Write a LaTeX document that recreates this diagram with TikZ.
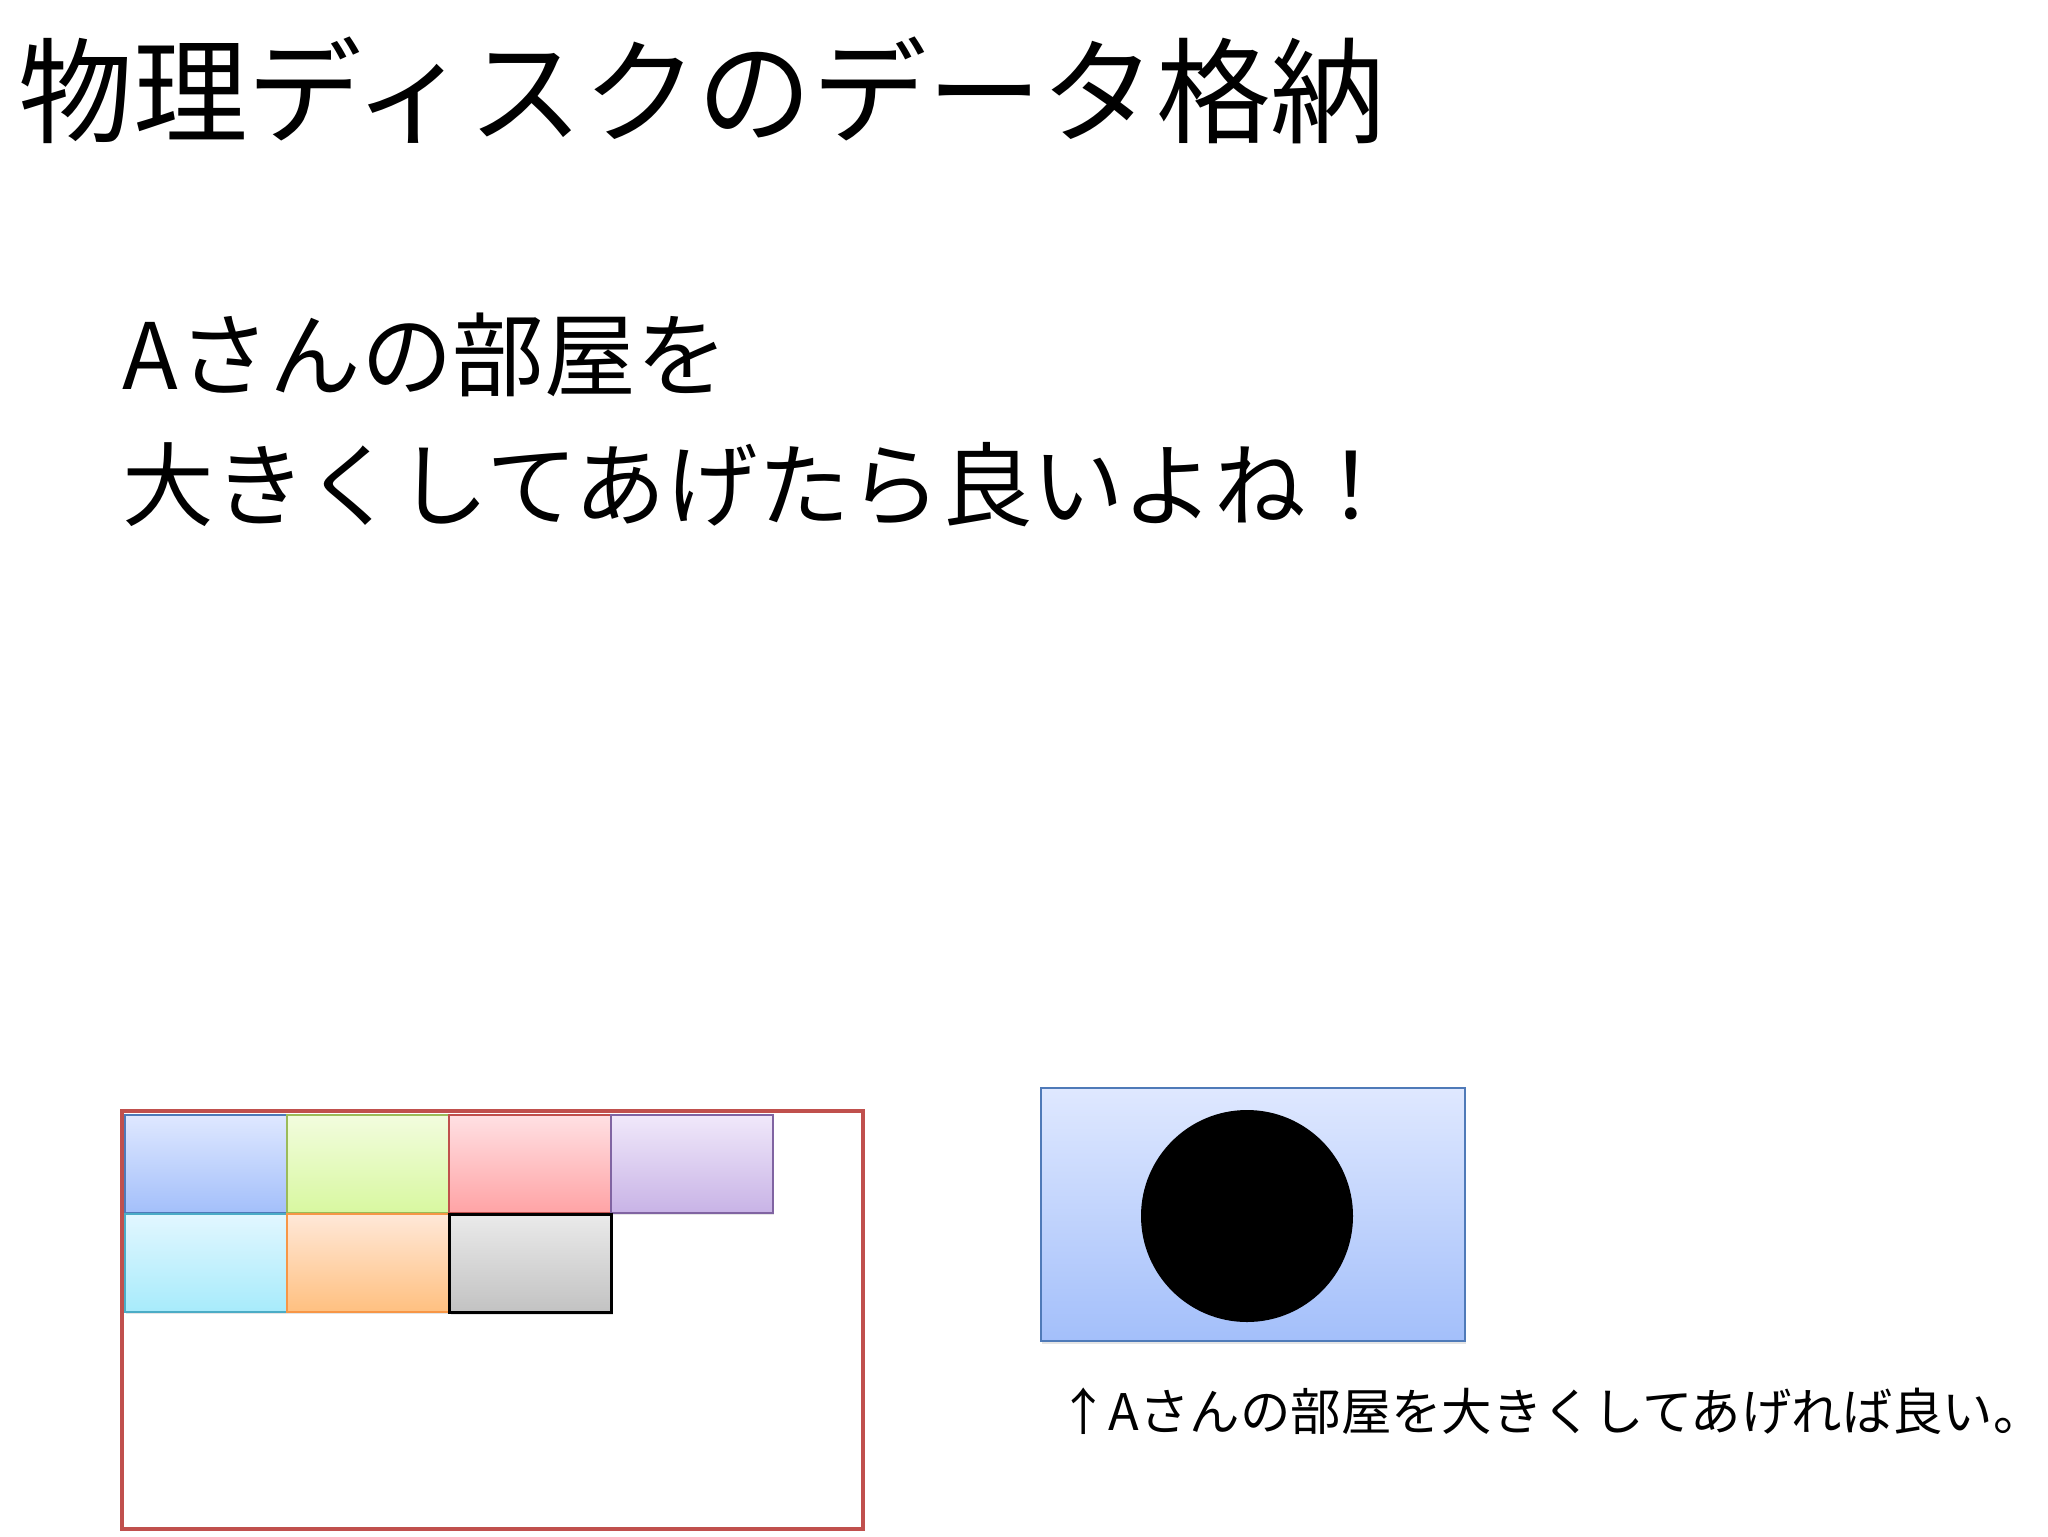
\documentclass[tikz,border=0pt]{standalone}
\usepackage{fontspec}
\newfontfamily\jp{Noto Sans CJK JP}
\usetikzlibrary{shadows}
\definecolor{redframe}{HTML}{C0504D}
\definecolor{bT}{HTML}{DFE8FF}\definecolor{bB}{HTML}{A3BFFA}\definecolor{bL}{HTML}{4F7AB8}
\definecolor{gT}{HTML}{F2FCDE}\definecolor{gB}{HTML}{D8F8A0}\definecolor{gL}{HTML}{9BBB59}
\definecolor{rT}{HTML}{FFE0E3}\definecolor{rB}{HTML}{FFA3A5}\definecolor{rL}{HTML}{C0504D}
\definecolor{pT}{HTML}{F0E8FA}\definecolor{pB}{HTML}{C8B3E6}\definecolor{pL}{HTML}{8064A2}
\definecolor{cT}{HTML}{E2F7FF}\definecolor{cB}{HTML}{A7EBFB}\definecolor{cL}{HTML}{4BACC6}
\definecolor{oT}{HTML}{FFE8D8}\definecolor{oB}{HTML}{FFC080}\definecolor{oL}{HTML}{F79646}
\definecolor{kT}{HTML}{EAEAEA}\definecolor{kB}{HTML}{C2C2C2}
\tikzset{
  cell/.style={rectangle, inner sep=0pt, minimum width=81pt, minimum height=49pt,
    anchor=north west, line width=1pt,
    drop shadow={shadow xshift=0.6pt, shadow yshift=-1.2pt, opacity=0.2}},
  txt/.style={inner sep=0pt, anchor=west, text=black},
}
\begin{document}
\begin{tikzpicture}[x=0.5pt,y=-0.5pt]
\useasboundingbox[fill=white] (0,0) rectangle (2048,1536);
% title and body text
\node[txt, font=\jp\fontsize{57.3}{60}\selectfont] (title) at (18,90) {物理ディスクのデータ格納};
\node[txt, font=\jp\fontsize{45.8}{50}\selectfont] (line1) at (122,355) {Aさんの部屋を};
\node[txt, font=\jp\fontsize{45.8}{50}\selectfont] (line2) at (122,485) {大きくしてあげたら良いよね！};
% red disk frame
\node[rectangle, draw=redframe, line width=2.2pt, inner sep=0pt, minimum width=370.5pt,
      minimum height=209pt, anchor=north west] (disk) at (120,1109) {};
% cells
\node[cell, draw=bL, top color=bT, bottom color=bB] (c11) at (124,1114) {};
\node[cell, draw=gL, top color=gT, bottom color=gB] (c12) at (286,1114) {};
\node[cell, draw=rL, top color=rT, bottom color=rB] (c13) at (448,1114) {};
\node[cell, draw=pL, top color=pT, bottom color=pB] (c14) at (610,1114) {};
\node[cell, draw=cL, top color=cT, bottom color=cB] (c21) at (124,1213) {};
\node[cell, draw=oL, top color=oT, bottom color=oB] (c22) at (286,1213) {};
\node[cell, draw=black, line width=1.4pt, top color=kT, bottom color=kB] (c23) at (448,1213) {};
% enlarged room
\node[rectangle, draw=bL, line width=1pt, top color=bT, bottom color=bB, inner sep=0pt,
      minimum width=212pt, minimum height=126.5pt, anchor=north west,
      drop shadow={shadow xshift=0.6pt, shadow yshift=-1.5pt, opacity=0.2}] (room) at (1040,1087) {};
\node[circle, fill=black, inner sep=0pt, minimum size=106pt] (dot) at (1247,1216) {};
% caption
\node[txt, font=\jp\fontsize{25.2}{30}\selectfont] (caption) at (1058,1411) {↑Aさんの部屋を大きくしてあげれば良い。};
\end{tikzpicture}
\end{document}
